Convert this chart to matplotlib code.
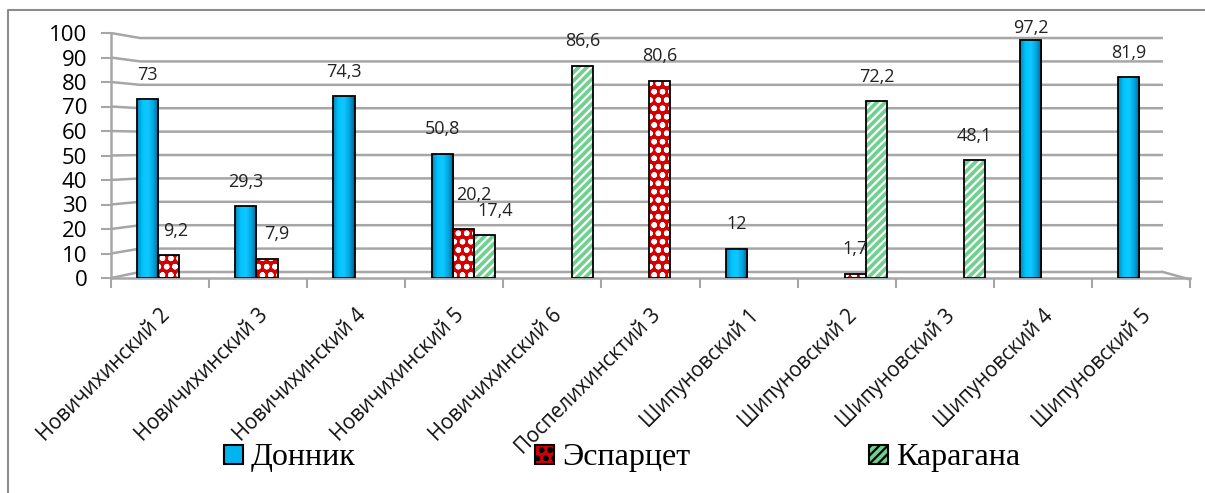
import numpy as np
import matplotlib
matplotlib.use('Agg')
import matplotlib.pyplot as plt
from matplotlib.lines import Line2D
from matplotlib.patches import Patch
from matplotlib.colors import LinearSegmentedColormap

# Chart data
categories = ['Новичихинский 2', 'Новичихинский 3', 'Новичихинский 4',
              'Новичихинский 5', 'Новичихинский 6', 'Поспелихинсктий 3',
              'Шипуновский 1', 'Шипуновский 2', 'Шипуновский 3',
              'Шипуновский 4', 'Шипуновский 5']
series_names = ['Донник', 'Эспарцет', 'Карагана']
donnik = [73, 29.3, 74.3, 50.8, np.nan, np.nan, 12, np.nan, np.nan, 97.2, 81.9]
esparcet = [9.2, 7.9, np.nan, 20.2, np.nan, 80.6, np.nan, 1.7, np.nan, np.nan, np.nan]
karagana = [np.nan, np.nan, np.nan, 17.4, 86.6, np.nan, np.nan, 72.2, 48.1, np.nan, np.nan]
y_ticks = [0, 10, 20, 30, 40, 50, 60, 70, 80, 90, 100]

# Styles for each series: face colour, hatch, hatch colour
styles = [
    dict(face='#00b4f0', hatch=None, hcolor=None),
    dict(face='#d40000', hatch='oo', hcolor='white'),
    dict(face='#6fd08f', hatch='////', hcolor='white'),
]

# nudges (in pixels) for a few data labels, like Excel places them
label_nudge = {(1, 0): (7, 0), (1, 1): (10, 0), (1, 3): (11, 9), (2, 3): (11, 0)}

plt.rcParams['hatch.linewidth'] = 1.6

# cylinder-like shading for the blue columns
blue_shade = LinearSegmentedColormap.from_list(
    'blue_shade', ['#0a86b8', '#00c4ff', '#10c8ff', '#00a6e0', '#005f88'])

fig = plt.figure(figsize=(12.05, 4.93), dpi=100)
ax = fig.add_axes([111 / 1205, 1 - 278 / 493, 1079 / 1205, 245 / 493])

x = np.arange(len(categories))
width = 0.215
shift = 0.09
series = [donnik, esparcet, karagana]

label_font = 'Open Sans'
grad = np.linspace(0, 1, 64).reshape(1, -1)

for i, (vals, st) in enumerate(zip(series, styles)):
    pos = x + shift + (i - 1) * width
    v = np.array(vals, dtype=float)
    # fill + pattern
    bars = ax.bar(pos, v, width, color=st['face'], hatch=st['hatch'],
                  edgecolor=st['hcolor'] if st['hcolor'] else st['face'],
                  linewidth=0, zorder=3)
    if i == 0:
        for b in bars:
            if np.isnan(b.get_height()):
                continue
            x0, w, h = b.get_x(), b.get_width(), b.get_height()
            im = ax.imshow(grad, cmap=blue_shade, aspect='auto', zorder=3.5,
                           extent=(x0, x0 + w, 0, h), interpolation='bilinear')
            im.set_clip_path(b)
    # outline
    ax.bar(pos, v, width, facecolor='none', edgecolor='black', linewidth=1.3, zorder=4)
    for j, (p, val) in enumerate(zip(pos, v)):
        if np.isnan(val):
            continue
        txt = ('%g' % val).replace('.', ',')
        dx, dy = label_nudge.get((i, j), (0, 0))
        ax.annotate(txt, xy=(p, min(val + 6.3, 98.2)), xytext=(dx * 0.72, dy * 0.72),
                    textcoords='offset points', ha='center', va='bottom',
                    fontsize=13, family=label_font, color='#222222', zorder=5)

ax.set_xlim(-0.5, len(categories) - 0.5)
ax.set_ylim(0, 100)

# back wall gridlines with perspective connector to the front axis
x_left = -0.5
x_back_left = -0.5 + 29 / 98.1
x_back_right = -0.5 + 1052 / 98.1
for t in y_ticks:
    yb = 2.45 + 0.955 * t
    ax.plot([x_left, x_back_left, x_back_right], [t, yb, yb], color='#a6a6a6',
            lw=1.8, zorder=1, clip_on=False, solid_capstyle='butt')
# floor right edge
ax.plot([x_back_right, len(categories) - 0.5], [2.45, -0.6], color='#a6a6a6', lw=1.8,
        zorder=1, clip_on=False)

for s in ['top', 'right']:
    ax.spines[s].set_visible(False)
for s in ['left', 'bottom']:
    ax.spines[s].set_color('#a6a6a6')
    ax.spines[s].set_linewidth(1.8)

ax.set_yticks(y_ticks)
ax.set_yticklabels([str(t) for t in y_ticks], fontsize=16, family=label_font)
ax.tick_params(axis='y', length=7, width=1.5, color='#a6a6a6', pad=10)

# category boundary ticks
ax.set_xticks(np.arange(-0.5, len(categories)), minor=False)
ax.set_xticklabels([])
ax.tick_params(axis='x', length=7, width=1.5, color='#a6a6a6')
for xi, name in zip(x, categories):
    ax.annotate(name, xy=(xi, 0), xycoords='data', xytext=(5, -25),
                textcoords='offset points', ha='right', va='center',
                rotation=45, rotation_mode='anchor', fontsize=14.8,
                family=label_font, color='#111111')

# legend
handles = [Patch(facecolor=st['face'], edgecolor='black', linewidth=1.5,
                 hatch=st['hatch']) for st in styles]
leg = fig.legend(handles, series_names, ncol=3, loc='center',
                 bbox_to_anchor=(622 / 1205, 1 - 458 / 493), frameon=False,
                 prop={'family': 'Liberation Serif', 'size': 23},
                 handlelength=0.6, handleheight=0.55, handletextpad=0.25,
                 columnspacing=5.6)

# outer chart border (left and top only are visible in the crop)
fig.add_artist(Line2D([8 / 1205, 8 / 1205, 1.0], [0.0, 1 - 10 / 493, 1 - 10 / 493],
                      transform=fig.transFigure, color='#8c8c8c', lw=1.5))

fig.savefig('out.png', dpi=100)
